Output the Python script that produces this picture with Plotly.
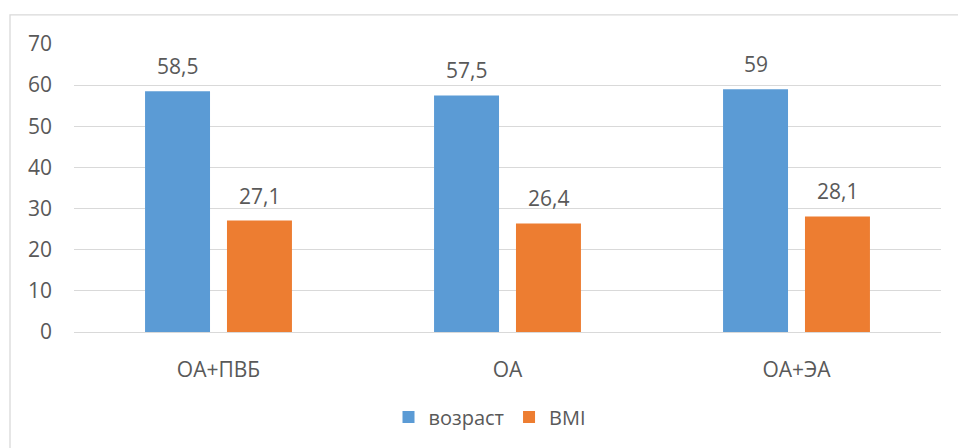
import plotly.graph_objects as go

categories = ["ОА+ПВБ", "ОА", "ОА+ЭА"]
age_values = [58.5, 57.5, 59]
bmi_values = [27.1, 26.4, 28.1]
series_names = ["возраст", "BMI"]
y_ticks = [0, 10, 20, 30, 40, 50, 60, 70]

BLUE = "#5B9BD5"
ORANGE = "#ED7D31"
TEXT = "#595959"
GRID = "#D9D9D9"
FONT = "Open Sans"
FS = 21

W, H = 958, 448
ML, MR, MT, MB = 74, 17, 44, 113
plot_w = W - ML - MR
plot_h = H - MT - MB


def fmt(v):
    return f"{v:g}".replace(".", ",")


fig = go.Figure()
for name, vals, col in [(series_names[0], age_values, BLUE),
                        (series_names[1], bmi_values, ORANGE)]:
    fig.add_trace(go.Bar(x=categories, y=vals, name=name,
                         marker=dict(color=col, line=dict(width=0))))

# value labels above each bar
slot = plot_w / len(categories) * (1 - 0.433) / 2
for vals, sign in [(age_values, -1), (bmi_values, 1)]:
    for c, v in zip(categories, vals):
        fig.add_annotation(x=c, y=v, text=fmt(v), showarrow=False,
                           xshift=sign * slot / 2, yanchor="bottom", yshift=9,
                           font=dict(family=FONT, size=FS, color=TEXT))

# chart frame
fig.add_shape(type="rect", xref="paper", yref="paper",
              x0=(10 - ML) / plot_w, x1=(975 - ML) / plot_w,
              y0=(MT + plot_h - 470) / plot_h, y1=(MT + plot_h - 14.5) / plot_h,
              line=dict(color=GRID, width=1.3), fillcolor="rgba(0,0,0,0)",
              layer="below")

fig.update_layout(
    width=W, height=H,
    margin=dict(l=ML, r=MR, t=MT, b=MB),
    paper_bgcolor="white", plot_bgcolor="white",
    barmode="group", bargap=0.433, bargroupgap=0.207,
    font=dict(family=FONT, size=FS, color=TEXT),
    showlegend=True,
    legend=dict(orientation="h", x=(490 - ML) / plot_w, xanchor="center",
                y=-(421 - (MT + plot_h)) / plot_h, yanchor="middle",
                font=dict(family=FONT, size=20, color=TEXT),
                itemwidth=30, traceorder="normal"),
)

fig.update_xaxes(showgrid=False, showline=False, zeroline=False,
                 ticks="", tickfont=dict(family=FONT, size=FS, color=TEXT),
                 ticklabelstandoff=23)
fig.update_yaxes(range=[0, 70], tickvals=y_ticks, showgrid=True,
                 gridcolor=GRID, gridwidth=1.3, zeroline=True,
                 zerolinecolor=GRID, zerolinewidth=1.3, showline=False,
                 ticks="", tickfont=dict(family=FONT, size=FS, color=TEXT),
                 ticklabelstandoff=21)

fig.write_html("out.html")
